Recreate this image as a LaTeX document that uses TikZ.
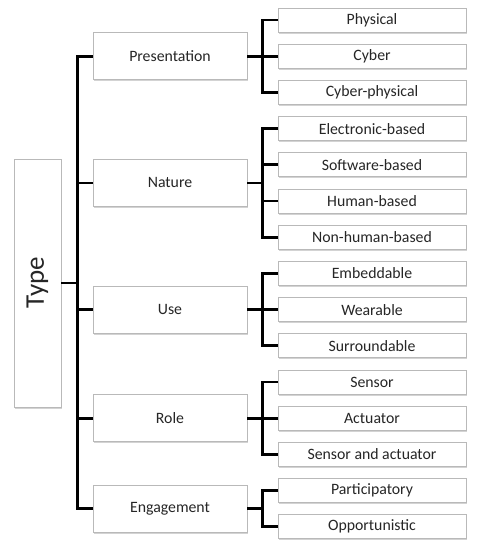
\documentclass[tikz,border=0pt]{standalone}
\usepackage{fontspec}
\setmainfont{Carlito}
\usepackage{tikz}
\usetikzlibrary{calc,positioning,shadows}
\usepackage{xcolor}

\tikzset{
  box/.style={draw=gray!55, line width=0.8pt, fill=white, inner sep=0pt,
    font=\fontsize{15.8}{18}\selectfont, text=black!85,
    drop shadow={shadow xshift=1.2pt, shadow yshift=-1.6pt, opacity=0.35}},
  catbox/.style={box, minimum width=154pt, minimum height=47pt},
  leafbox/.style={box, minimum width=188pt, minimum height=24pt},
  link/.style={line width=2.8pt, black}
}

\begin{document}
\begin{tikzpicture}[x=1pt,y=-1pt]
    \useasboundingbox (0,0) rectangle (481,550);

    % the root
    \node[box, minimum width=47pt, minimum height=248pt] (type) at (37.5,283) {};
    \node[rotate=90, font=\fontsize{27}{30}\selectfont, text=black!85] (typetext) at (type.center) {Type};

    % categories
    \node[catbox] (pres) at (170,56.2)  {Presentation};
    \node[catbox] (nat)  at (170,182.9) {Nature};
    \node[catbox] (use)  at (170,309.6) {Use};
    \node[catbox] (role) at (170,418.2) {Role};
    \node[catbox] (eng)  at (170,508.7) {Engagement};

    % leaves
    \foreach \name/\txt [count=\i from 0] in {phys/Physical, cyb/Cyber, cphys/Cyber-physical,
        elec/Electronic-based, soft/Software-based, hum/Human-based, nonhum/Non-human-based,
        emb/Embeddable, wear/Wearable, surr/Surroundable,
        sens/Sensor, act/Actuator, sensact/Sensor and actuator,
        part/Participatory, opp/Opportunistic}
      \node[leafbox] (\name) at (372,20+36.2*\i) {\txt};

    % trunk
    \foreach \c in {pres,nat,use,role,eng}
      \draw[link] (type.east) -- ++(16,0) |- (\c.west);

    % branches
    \foreach \c/\leaves in {pres/{phys,cyb,cphys}, nat/{elec,soft,hum,nonhum},
        use/{emb,wear,surr}, role/{sens,act,sensact}, eng/{part,opp}}
      \foreach \l in \leaves
        \draw[link] (\c.east) -- ++(15,0) |- (\l.west);
  \end{tikzpicture}
\end{document}
